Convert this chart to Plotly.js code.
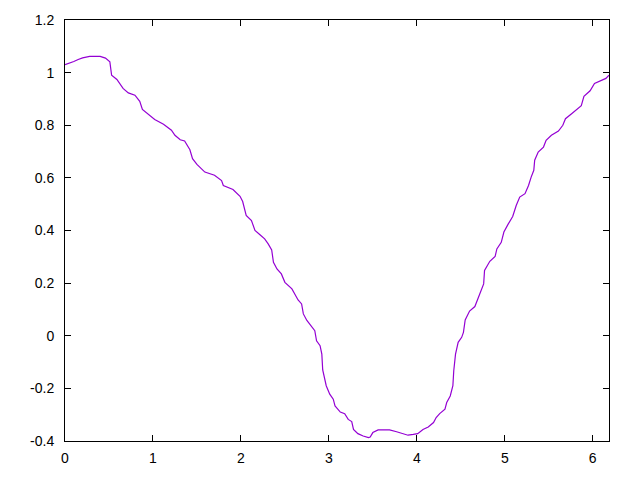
<!DOCTYPE html>
<html>
<head>
<meta charset="utf-8">
<script src="https://cdn.plot.ly/plotly-3.0.1.min.js"></script>
<style>html,body{margin:0;padding:0;background:#fff;}#chart{width:640px;height:480px;}</style>
</head>
<body>
<div id="chart"></div>
<script>
const xValues = [0,0.05,0.1,0.15,0.2,0.28,0.4,0.46,0.51,0.53,0.59,0.66,0.72,0.795,0.85,0.88,0.95,1.02,1.12,1.21,1.25,1.31,1.36,1.42,1.45,1.5,1.59,1.7,1.78,1.8,1.91,1.99,2.02,2.06,2.12,2.16,2.22,2.27,2.31,2.35,2.37,2.41,2.46,2.5,2.58,2.61,2.65,2.69,2.71,2.75,2.8,2.84,2.86,2.9,2.92,2.93,2.97,3.01,3.05,3.07,3.13,3.18,3.22,3.26,3.28,3.33,3.39,3.45,3.47,3.5,3.56,3.69,3.77,3.84,3.9,3.96,4.01,4.07,4.13,4.19,4.22,4.26,4.32,4.34,4.38,4.41,4.42,4.44,4.47,4.51,4.53,4.55,4.6,4.66,4.7,4.76,4.77,4.83,4.89,4.91,4.96,4.99,5.04,5.09,5.13,5.17,5.23,5.27,5.3,5.33,5.34,5.38,5.44,5.47,5.53,5.61,5.66,5.69,5.76,5.81,5.87,5.9,5.97,6.02,6.08,6.15,6.185];
const yValues = [1.03,1.035,1.042,1.05,1.056,1.062,1.062,1.055,1.041,0.99,0.974,0.94,0.923,0.914,0.891,0.86,0.842,0.822,0.804,0.781,0.762,0.745,0.74,0.707,0.673,0.651,0.622,0.61,0.59,0.571,0.556,0.53,0.51,0.457,0.438,0.4,0.383,0.368,0.349,0.326,0.279,0.254,0.235,0.203,0.178,0.159,0.136,0.121,0.083,0.058,0.038,0.019,-0.019,-0.038,-0.07,-0.13,-0.19,-0.222,-0.241,-0.267,-0.29,-0.296,-0.318,-0.326,-0.356,-0.372,-0.381,-0.387,-0.385,-0.368,-0.358,-0.358,-0.365,-0.372,-0.378,-0.375,-0.372,-0.356,-0.347,-0.33,-0.311,-0.296,-0.279,-0.254,-0.229,-0.19,-0.133,-0.07,-0.025,-0.006,0.013,0.06,0.094,0.111,0.145,0.197,0.248,0.283,0.301,0.33,0.355,0.394,0.425,0.453,0.495,0.527,0.54,0.571,0.603,0.629,0.667,0.698,0.717,0.743,0.762,0.778,0.8,0.825,0.844,0.857,0.874,0.91,0.931,0.959,0.969,0.978,0.99];
const xTicks = [0,1,2,3,4,5,6];
const yTicks = [-0.4,-0.2,0,0.2,0.4,0.6,0.8,1,1.2];
const yTickLabels = ["-0.4","-0.2","0","0.2","0.4","0.6","0.8","1","1.2"];

const axisCommon = {
  showgrid:false, zeroline:false, showline:true, linecolor:'#000', linewidth:1,
  ticks:'inside', ticklen:6, tickwidth:1, tickcolor:'#000', mirror:'ticks',
  tickfont:{family:'Liberation Sans, Arial, sans-serif', size:14, color:'#000'}
};

Plotly.newPlot('chart', [{
  x:xValues, y:yValues, type:'scatter', mode:'lines',
  line:{color:'#9400D3', width:1.2}
}], {
  width:640, height:480,
  margin:{l:65, r:30.5, t:20, b:39, pad:0},
  paper_bgcolor:'#fff', plot_bgcolor:'#fff',
  showlegend:false,
  xaxis:Object.assign({}, axisCommon, {range:[0,6.185], tickvals:xTicks, ticktext:xTicks.map(String), ticklabelstandoff:4}),
  yaxis:Object.assign({}, axisCommon, {range:[-0.4,1.2], tickvals:yTicks, ticktext:yTickLabels, ticklabelstandoff:7})
}, {staticPlot:true, displayModeBar:false});
</script>
</body>
</html>
